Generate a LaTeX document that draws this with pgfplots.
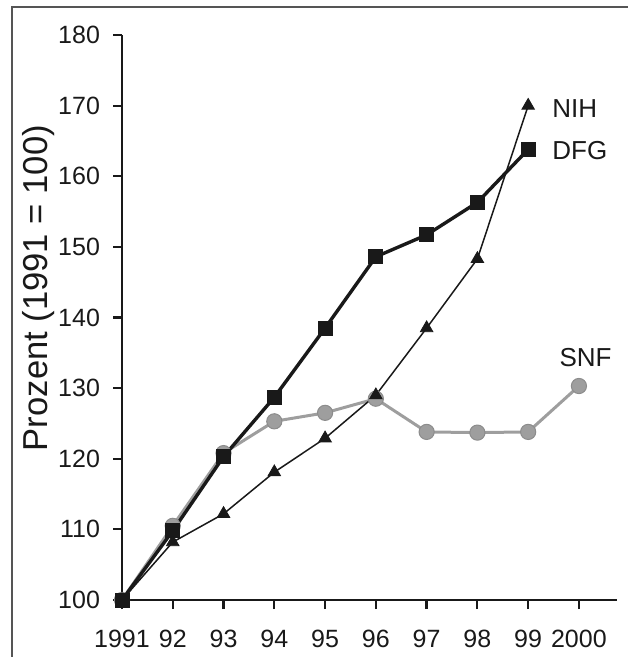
\documentclass[border=0pt]{standalone}
\usepackage{pgfplots}
\pgfplotsset{compat=1.18}
\usepackage{fontspec}
\setmainfont{Liberation Sans}

\definecolor{snf}{RGB}{158,158,158}
\definecolor{snfd}{RGB}{140,140,140}
\definecolor{ink}{RGB}{25,25,25}
\definecolor{framec}{RGB}{85,85,85}

\begin{document}
\begin{tikzpicture}
\useasboundingbox (-61pt,-28.5pt) rectangle (252.5pt,300pt);
\draw[framec, line width=1pt] (-55pt,-30pt) -- (-55pt,296.5pt) -- (254pt,296.5pt);
\begin{axis}[
  at={(0,0)}, anchor=south west,
  scale only axis, width=247.5pt, height=282.5pt,
  xmin=1991, xmax=2000.75, ymin=100, ymax=180,
  axis x line=bottom, axis y line=left,
  axis line style={-, line width=1.4pt, ink},
  xtick={1991,...,2000},
  xticklabels={1991,92,93,94,95,96,97,98,99,2000},
  ytick={100,110,...,180},
  tick align=outside, major tick length=4.5pt,
  tick style={line width=1.1pt, ink},
  tick label style={font=\fontsize{12.5}{14}\selectfont, text=ink},
  xticklabel style={yshift=-7pt},
  yticklabel style={xshift=-3pt},
  /pgf/number format/assume math mode=true,
  ylabel={Prozent (1991 = 100)},
  ylabel style={at={(axis description cs:-0.168,0.552)}, anchor=center, inner sep=0pt, font=\fontsize{17.3}{19}\selectfont, text=ink},
  clip=false,
]
\addplot[snf, line width=1.5pt, mark=*, mark size=3.8pt, mark options={fill=snf, draw=snfd, line width=0.5pt}]
  coordinates {(1991,100)(1992,110.5)(1993,120.8)(1994,125.3)(1995,126.5)(1996,128.5)(1997,123.8)(1998,123.7)(1999,123.8)(2000,130.3)};
\addplot[ink, line width=0.75pt, mark=triangle*, mark size=3.6pt, mark options={fill=ink, line width=0.4pt}]
  coordinates {(1991,100)(1992,108.2)(1993,112.2)(1994,118.1)(1995,122.9)(1996,129)(1997,138.5)(1998,148.3)(1999,170)};
\addplot[ink, line width=1.7pt, mark=square*, mark size=3.5pt, mark options={fill=ink, line width=0.4pt}]
  coordinates {(1991,100)(1992,109.8)(1993,120.3)(1994,128.7)(1995,138.5)(1996,148.6)(1997,151.7)(1998,156.3)(1999,163.8)};
\node[anchor=west, inner sep=0pt, font=\fontsize{13}{15}\selectfont, text=ink] at (axis cs:1999.47,169.6) {NIH};
\node[anchor=west, inner sep=0pt, font=\fontsize{13}{15}\selectfont, text=ink] at (axis cs:1999.47,163.6) {DFG};
\node[anchor=center, inner sep=0pt, font=\fontsize{13}{15}\selectfont, text=ink] at (axis cs:2000.13,134.4) {SNF};
\end{axis}
\end{tikzpicture}
\end{document}
